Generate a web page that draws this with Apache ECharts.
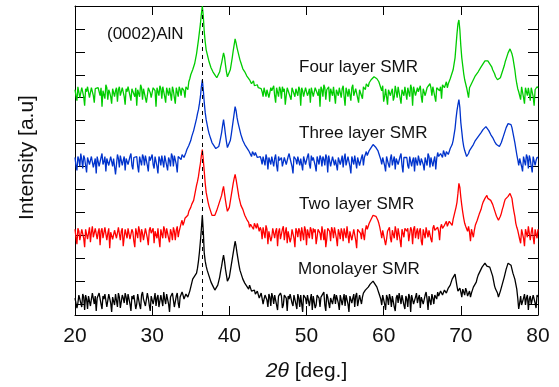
<!DOCTYPE html>
<html>
<head>
<meta charset="utf-8">
<script src="https://cdn.jsdelivr.net/npm/echarts@6/dist/echarts.min.js"></script>
<style>
html,body{margin:0;padding:0;background:#fff;}
#chart{width:559px;height:387px;}
</style>
</head>
<body>
<div id="chart"></div>
<script>
// 2θ sampling positions (deg.)
var twoTheta = [
20,20.25,20.5,20.75,21,21.25,21.5,21.75,22,22.25,22.5,22.75,23,23.25,23.5,23.75,24,24.25,24.5,24.75,
25,25.25,25.5,25.75,26,26.25,26.5,26.75,27,27.25,27.5,27.75,28,28.25,28.5,28.75,29,29.25,29.5,29.75,
30,30.25,30.5,30.75,31,31.25,31.5,31.75,32,32.25,32.5,32.75,33,33.25,33.5,33.75,34,34.25,34.5,34.75,
35,35.25,35.5,35.75,36,36.25,36.5,36.75,37,37.25,37.5,37.75,38,38.25,38.5,38.75,39,39.25,39.5,39.75,
40,40.25,40.5,40.75,41,41.25,41.5,41.75,42,42.25,42.5,42.75,43,43.25,43.5,43.75,44,44.25,44.5,44.75,
45,45.25,45.5,45.75,46,46.25,46.5,46.75,47,47.25,47.5,47.75,48,48.25,48.5,48.75,49,49.25,49.5,49.75,
50,50.25,50.5,50.75,51,51.25,51.5,51.75,52,52.25,52.5,52.75,53,53.25,53.5,53.75,54,54.25,54.5,54.75,
55,55.25,55.5,55.75,56,56.25,56.5,56.75,57,57.25,57.5,57.75,58,58.25,58.5,58.75,59,59.25,59.5,59.75,
60,60.25,60.5,60.75,61,61.25,61.5,61.75,62,62.25,62.5,62.75,63,63.25,63.5,63.75,64,64.25,64.5,64.75,
65,65.25,65.5,65.75,66,66.25,66.5,66.75,67,67.25,67.5,67.75,68,68.25,68.5,68.75,69,69.25,69.5,69.75,
70,70.25,70.5,70.75,71,71.25,71.5,71.75,72,72.25,72.5,72.75,73,73.25,73.5,73.75,74,74.25,74.5,74.75,
75,75.25,75.5,75.75,76,76.25,76.5,76.75,77,77.25,77.5,77.75,78,78.25,78.5,78.75,79,79.25,79.5,79.75,
80
];
// intermediate 2θ sampling positions (deg.)
var twoThetaMid = [
20.125,20.375,20.625,20.875,21.125,21.375,21.625,21.875,22.125,22.375,22.625,22.875,23.125,23.375,23.625,23.875,24.125,24.375,24.625,24.875,
25.125,25.375,25.625,25.875,26.125,26.375,26.625,26.875,27.125,27.375,27.625,27.875,28.125,28.375,28.625,28.875,29.125,29.375,29.625,29.875,
30.125,30.375,30.625,30.875,31.125,31.375,31.625,31.875,32.125,32.375,32.625,32.875,33.125,33.375,33.625,33.875,34.125,34.375,34.625,34.875,
35.125,35.375,35.625,35.875,36.125,36.375,36.625,36.875,37.125,37.375,37.625,37.875,38.125,38.375,38.625,38.875,39.125,39.375,39.625,39.875,
40.125,40.375,40.625,40.875,41.125,41.375,41.625,41.875,42.125,42.375,42.625,42.875,43.125,43.375,43.625,43.875,44.125,44.375,44.625,44.875,
45.125,45.375,45.625,45.875,46.125,46.375,46.625,46.875,47.125,47.375,47.625,47.875,48.125,48.375,48.625,48.875,49.125,49.375,49.625,49.875,
50.125,50.375,50.625,50.875,51.125,51.375,51.625,51.875,52.125,52.375,52.625,52.875,53.125,53.375,53.625,53.875,54.125,54.375,54.625,54.875,
55.125,55.375,55.625,55.875,56.125,56.375,56.625,56.875,57.125,57.375,57.625,57.875,58.125,58.375,58.625,58.875,59.125,59.375,59.625,59.875,
60.125,60.375,60.625,60.875,61.125,61.375,61.625,61.875,62.125,62.375,62.625,62.875,63.125,63.375,63.625,63.875,64.125,64.375,64.625,64.875,
65.125,65.375,65.625,65.875,66.125,66.375,66.625,66.875,67.125,67.375,67.625,67.875,68.125,68.375,68.625,68.875,69.125,69.375,69.625,69.875,
70.125,70.375,70.625,70.875,71.125,71.375,71.625,71.875,72.125,72.375,72.625,72.875,73.125,73.375,73.625,73.875,74.125,74.375,74.625,74.875,
75.125,75.375,75.625,75.875,76.125,76.375,76.625,76.875,77.125,77.375,77.625,77.875,78.125,78.375,78.625,78.875,79.125,79.375,79.625,79.875
];

// Intensities (a.u., relative to each pattern's own background) at twoTheta
var monolayer = [
3,-7,6,-2, 7,-9,2,5, -5,8,-3,-10, 4,6,-8,2, 8,-4,5,-11,
2,7,-6,4, -9,3,8,-4, 6,-10,2,7, -3,5,-8,9, 4,-6,3,-10,
7,2,-5,6, -8,4,9,-3, 5,-11,3,6, -4,8,-7,2, 6,3,9,5,
14,22,25,28, 40,60,86,48, 35,28,22,17, 13,10,16,24, 35,46,32,20,
24,36,48,60, 48,36,28,22, 18,15,12,14, 9,11,6,8, 5,9,2,7,
-6,4,8,-3, 6,-9,3,5, -4,7,-10,2, 8,-5,4,-8, 3,6,-11,5,
-3,7,2,-9, 5,-4,8,-6, 2,9,-10,4, -7,5,3,-3, 8,-9,6,2,
-5,4,-11,7, 3,-6,8,-4, 6,4,9,12, 14,17,19,18, 16,11,6,-4,
5,-9,3,7, -6,4,-10,6, 8,-3,5,-8, 2,7,-11,4, -5,8,3,-7,
6,-4,9,-9, 4,7,-3,8, 9,5,11,7, 12,10,15,17, 20,27,15,12,
9,12,6,10, 7,4,11,13, 19,26,30,34, 36,37,36,34, 28,20,12,8,
5,12,19,28, 35,40,36,28, 22,12,-8,5, -6,7,3,-9, 5,-4,8,-7,
4
];
var monolayerMid = [
5,-2,8,-6, 4,6,-8,7, 2,6,5,3, 8,-3,5,7, -6,7,-2,4,
-4,5,8,-7, 6,-2,4,7, -3,5,6,-8, 7,-4,6,2, -5,8,-4,5,
-3,8,3,-6, 6,-5,2,7, -3,4,8,-6, 5,-2,4,9, 2,7,4,10,
18,24,26,33, 49,72,70,40, 31,25,19,15, 11,12,20,30, 41,40,26,21,
30,42,54,55, 42,31,25,20, 16,13,16,10, 12,7,10,3, 8,-3,6,1,
7,-5,4,6, -4,5,8,-7, 6,3,5,7, -2,6,-3,7, -6,4,6,3,
6,-5,7,5, -7,6,3,4, 6,-4,7,-2, 3,-3,7,6, -2,6,-4,7,
6,-3,5,-2, 7,5,-5,6, -3,8,11,13, 16,18,20,17, 14,8,2,6,
-3,6,-4,3, 5,-6,3,-2, 3,6,-4,5, -6,4,6,-3, 4,-2,6,4,
-3,6,2,5, -4,3,6,2, 5,10,6,11, 8,13,16,22, 24,21,10,13,
4,9,13,5, 10,8,14,16, 23,28,32,35, 38,35,37,31, 25,15,11,4,
10,17,24,32, 38,39,32,25, 17,3,-2,-4, 3,-4,6,2, -3,6,-2,6
];
var twoLayer = [
6,-9,4,-3, 8,-12,5,2, -7,9,-4,6, 3,-10,7,-5, 9,2,-13,5,
-6,7,-2,10, 4,-11,6,-3, 8,-5,3,-12, 5,9,-7,2, -4,6,-10,8,
3,-8,5,7, -12,4,9,-3, 6,-7,2,8, -5,9,4,12, 10,17,15,24,
28,33,40,50, 59,72,86,64, 43,33,26,20, 18,22,28,34, 40,49,35,24,
28,40,52,61, 50,38,30,26, 20,16,13,11, 9,12,7,10, 8,-4,6,10,
-9,5,-2,8, 4,-11,7,-5, 9,3,-8,6, -3,8,-12,4, 7,-6,2,9,
-10,5,8,-4, 3,-9,6,2, 9,-5,-12,7, 4,8,-3,6, -11,2,7,-6,
5,9,-8,3, -4,6,-13,8, 2,7,-5,10, 9,14,18,21, 19,15,8,-3,
6,-10,4,8, -7,3,9,-5, 6,-12,2,7, 4,-6,8,-9, 9,3,-4,7,
-10,5,8,-2, 6,-7,10,3, 8,-5,11,6, 12,9,14,13, 16,24,33,52,
38,23,12,7, 9,-6,8,5, 12,18,23,30, 35,39,37,35, 34,28,22,17,
16,22,29,36, 36,41,43,30, 19,8,3,-8, 7,-11,5,9, -5,8,-9,4,
6
];
var twoLayerMid = [
-2,7,-5,6, -3,6,-4,8, 3,-2,7,-4, 7,4,-3,8, -5,7,3,-4,
5,-3,8,-5, 7,-2,5,7, -4,6,-6,7, -3,4,6,-5, 7,-3,5,2,
7,4,-3,-4, 6,-3,5,7, -3,6,-5,4, 5,-2,8,15, 13,18,20,26,
31,35,45,54, 66,80,76,52, 38,29,23,19, 20,25,31,37, 45,42,29,26,
34,46,57,56, 44,34,28,23, 18,14,8,13, 6,10,12,4, 5,8,-3,6,
4,-6,7,-3, 7,3,-4,6, -5,8,4,-7, 6,-3,7,-2, 4,8,-5,5,
6,-3,5,7, 6,-2,8,-5, 3,6,-4,7, -6,5,8,-3, 6,-4,3,7,
-3,7,4,-5, 6,-5,6,4, -4,8,5,6, 12,16,20,22, 17,12,3,5,
7,-4,6,-3, 5,-3,4,7, -5,6,-2,8, 7,-4,5,6, -3,7,4,-6,
6,-3,7,5, -4,7,5,6, 4,8,7,10, 14,11,16,10, 20,28,42,48,
30,17,9,4, 3,6,-2,10, 15,21,26,33, 37,40,36,35, 31,25,19,15,
19,26,33,35, 39,42,37,24, 12,5,-4,6, -3,6,-2,7, 3,-2,6,-3
];
var threeLayer = [
5,-8,3,9, -6,4,-10,7, 2,8,-4,-11, 6,-3,9,1, -9,5,-2,7,
4,-12,8,-5, 7,2,-8,5, -4,9,-7,3, 6,-10,4,8, -3,5,-9,2,
8,-6,4,-11, 3,7,-5,6, -8,2,9,-4, 5,-10,7,3, 9,6,13,17,
22,29,36,44, 53,66,83,60, 43,33,26,20, 17,14,12,20, 30,43,28,15,
16,28,42,56, 45,36,28,22, 18,15,12,10, 11,7,9,4, 6,-2,5,8,
-7,3,6,-4, 8,-9,2,5, -5,7,-3,9, 3,-11,6,-2, 7,4,-8,5,
-3,9,-6,2, 6,-9,4,7, -4,3,8,-10, 5,-2,7,3, -8,6,2,-5,
9,-3,5,-11, 4,7,-6,3, -2,8,5,11, 9,14,16,17, 15,12,6,-2,
7,-9,4,-5, 8,2,-7,6, -4,9,-10,3, 5,-6,8,2, -9,4,7,-3,
6,-8,3,9, -5,7,2,-7, 10,4,8,12, 6,13,10,16, 22,34,52,63,
40,22,12,6, 9,14,17,20, 23,26,28,32, 34,36,34,30, 27,23,19,17,
16,20,26,32, 37,40,38,30, 20,8,-3,6, -9,5,8,-6, 3,-10,7,2,
5
];
var threeLayerMid = [
-3,6,-4,3, 7,-3,5,-2, 6,-5,4,6, -4,5,-2,6, 4,-3,6,-4,
6,-2,4,7, -3,6,4,-2, 6,-3,5,7, -4,6,-3,5, 7,-3,6,5,
-2,6,-4,6, -3,5,7,-3, 5,-4,6,7, -2,6,4,8, 5,10,15,19,
26,32,40,49, 59,76,73,50, 38,29,23,18, 15,12,16,25, 37,36,21,14,
22,35,49,52, 40,32,25,20, 16,13,11,6, 9,10,5,7, 3,6,-3,4,
5,-2,7,4, -3,6,4,-4, 5,-2,6,4, -4,6,3,6, -3,5,6,-2,
6,-2,7,5, -3,6,-2,4, 6,-3,5,7, -4,6,-3,5, 5,-2,7,4,
-3,6,-4,6, -2,6,5,-3, 5,-3,8,7, 12,15,18,16, 14,9,3,5,
-3,6,-2,4, -3,6,4,-2, 6,-3,5,7, -3,6,-4,5, 5,-3,6,4,
-2,5,-3,6, 5,-4,6,4, 6,9,5,10, 11,8,14,18, 28,44,58,55,
31,16,9,8, 12,15,18,22, 24,27,30,33, 35,35,32,28, 25,21,18,16,
18,23,29,35, 39,39,35,25, 14,3,4,-4, 6,-3,5,7, -4,6,-3,5
];
var fourLayer = [
4,-7,6,-3, 8,-12,2,5, -5,7,-9,3, 6,-2,-13,4, 9,-6,1,-10,
5,3,-8,7, -4,8,-11,2, 6,-7,4,-3, -12,5,9,-6, 3,-9,6,1,
-4,7,-13,5, 8,-5,2,-9, 4,6,-7,3, -10,5,7,-2, 6,-4,9,12,
19,24,30,40, 54,70,88,62, 44,36,29,24, 21,17,15,22, 31,41,29,17,
18,30,43,55, 46,38,31,25, 22,18,16,13, 12,8,10,6, 7,2,6,-3,
5,-6,3,8, -9,4,7,-5, 2,-11,6,4, -6,8,-3,5, 7,-12,3,-4,
6,1,-9,8, -5,7,-2,-13, 4,9,-6,2, -8,5,7,-10, 3,6,-4,8,
-12,2,5,-7, 9,-3,4,-9, 6,-5,8,10, 7,13,15,17, 16,14,9,3,
-8,5,-11,6, 2,-7,8,-4, 5,-10,3,7, -6,4,9,-12, 6,-3,2,8,
-9,7,-4,5, 10,-2,6,-8, 8,3,-5,11, 9,6,12,18, 24,36,60,74,
48,28,14,6, -4,8,12,16, 19,22,24,29, 31,34,33,30, 27,22,17,14,
13,18,25,32, 38,43,44,36, 24,10,2,-6, 8,-10,4,6, -7,5,-12,3,
6
];
var fourLayerMid = [
-2,7,-4,6, -3,5,7,-4, 6,-2,5,7, 4,6,3,-5, 6,4,-3,5,
-3,6,4,-2, 6,-3,5,7, -2,5,7,6, 4,-3,6,5, 7,-2,5,-4,
6,3,6,-2, 5,7,-3,6, -2,5,7,-4, 6,-3,4,6, 3,7,4,15,
21,27,35,47, 62,80,78,52, 40,32,26,22, 19,16,18,27, 36,37,22,16,
24,36,49,51, 42,34,28,23, 20,17,14,10, 13,7,9,4, 5,-3,6,4,
-4,6,5,-2, 6,-3,4,7, 5,-2,7,-3, 6,4,5,-2, 4,6,-3,6,
-2,5,6,-3, 6,4,5,7, -3,6,4,7, 5,-2,6,4, -2,7,5,-3,
6,-3,4,6, -2,5,7,4, 5,7,4,9, 11,14,16,18, 15,12,6,8,
-3,6,4,-2, 5,-3,6,7, 6,4,-2,5, 6,-3,5,7, -2,6,5,-3,
5,-2,6,4, 6,7,-3,6, 4,7,9,6, 12,10,15,21, 30,48,70,64,
36,20,10,8, 6,10,14,18, 20,23,27,30, 33,35,32,28, 24,20,15,12,
16,22,28,35, 41,45,40,30, 16,5,3,7, -4,6,-2,5, 6,-3,4,7
];

var seriesNames = ['Monolayer SMR','Two layer SMR','Three layer SMR','Four layer SMR'];
var seriesValues = [monolayer, twoLayer, threeLayer, fourLayer];
var seriesMidValues = [monolayerMid, twoLayerMid, threeLayerMid, fourLayerMid];
var stackOffsets = [14, 80, 153, 222];
var seriesColors = ['#000000', '#ff0000', '#0033cc', '#00cc00'];
var xTicks = [20, 30, 40, 50, 60, 70, 80];
var peakMarker = 36.5;
var peakLabel = '(0002)AlN';

var chart = echarts.init(document.getElementById('chart'), null, {renderer: 'canvas'});
var FONT = '"Liberation Sans", Arial, sans-serif';

var series = seriesValues.map(function (vals, k) {
  var mid = seriesMidValues[k];
  var pts = [];
  for (var i = 0; i < twoTheta.length; i++) {
    pts.push([twoTheta[i], vals[i] + stackOffsets[k]]);
    if (i < twoThetaMid.length) pts.push([twoThetaMid[i], mid[i] + stackOffsets[k]]);
  }
  return {
    name: seriesNames[k],
    type: 'line',
    xAxisIndex: 0,
    yAxisIndex: 0,
    showSymbol: false,
    symbol: 'none',
    silent: true,
    animation: false,
    clip: true,
    lineStyle: {color: seriesColors[k], width: 1.3},
    data: pts
  };
});
series[0].markLine = {
  silent: true,
  symbol: 'none',
  animation: false,
  label: {show: false},
  lineStyle: {color: '#000', type: [4, 4], width: 1},
  data: [[{coord: [peakMarker, 0]}, {coord: [peakMarker, 306]}]]
};

var labelStyle = {fontFamily: FONT, fontSize: 17, fill: '#111'};
function txt(x, y, s) {
  return {type: 'text', left: x, top: y, silent: true,
    style: Object.assign({text: s}, labelStyle)};
}

chart.setOption({
  animation: false,
  backgroundColor: '#fff',
  grid: {left: 75, right: 21, top: 6, bottom: 71, containLabel: false},
  xAxis: [{
    type: 'value', position: 'bottom', min: 20, max: 80, interval: 10,
    name: '{i|2θ} [deg.]', nameLocation: 'middle', nameGap: 46,
    nameTextStyle: {fontFamily: FONT, fontSize: 21, color: '#111',
      rich: {i: {fontFamily: FONT, fontSize: 21, fontStyle: 'italic', color: '#111'}}},
    axisLine: {show: true, lineStyle: {color: '#000', width: 1}},
    axisTick: {show: true, inside: true, length: 9, lineStyle: {color: '#000'}},
    axisLabel: {fontFamily: FONT, fontSize: 21, color: '#111', margin: 11},
    splitLine: {show: false}
  }, {
    type: 'value', position: 'top', min: 20, max: 80, interval: 10,
    axisLine: {show: true, lineStyle: {color: '#000', width: 1}},
    axisTick: {show: true, inside: true, length: 9, lineStyle: {color: '#000'}},
    axisLabel: {show: false},
    splitLine: {show: false}
  }],
  yAxis: [{
    type: 'value', min: 0, max: 310, show: false
  }, {
    type: 'value', position: 'left', inverse: true, min: 0, max: 13.478, interval: 1,
    name: 'Intensity [a.u]', nameLocation: 'middle', nameGap: 37, nameRotate: 90,
    nameTextStyle: {fontFamily: FONT, fontSize: 21, color: '#111', padding: [0, 0, 0, 6]},
    axisLine: {show: true, lineStyle: {color: '#000', width: 1}},
    axisTick: {show: true, inside: true, length: 10, lineStyle: {color: '#000'}},
    axisLabel: {show: false},
    splitLine: {show: false}
  }, {
    type: 'value', position: 'right', inverse: true, min: 0, max: 13.478, interval: 1,
    axisLine: {show: true, lineStyle: {color: '#000', width: 1}},
    axisTick: {show: true, inside: true, length: 10, lineStyle: {color: '#000'}},
    axisLabel: {show: false},
    splitLine: {show: false}
  }],
  series: series,
  graphic: [
    txt(107, 26, peakLabel),
    txt(299, 59, seriesNames[3]),
    txt(299, 125, seriesNames[2]),
    txt(299, 196, seriesNames[1]),
    txt(298, 261, seriesNames[0])
  ]
});
</script>
</body>
</html>
